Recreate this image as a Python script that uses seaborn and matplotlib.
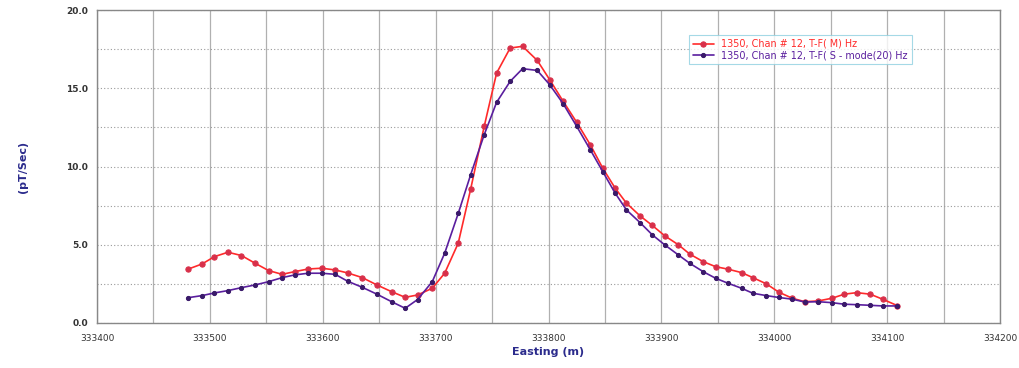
import numpy as np
import pandas as pd
import matplotlib
matplotlib.use('Agg')
import matplotlib.pyplot as plt
import seaborn as sns

# Data
easting = [333481, 333493, 333504, 333516, 333528, 333540, 333552, 333564, 333575, 333587,
           333599, 333611, 333622, 333635, 333648, 333661, 333673, 333684, 333697, 333708,
           333720, 333731, 333743, 333754, 333766, 333777, 333790, 333801, 333813, 333825,
           333837, 333848, 333859, 333869, 333881, 333892, 333903, 333915, 333925, 333937,
           333948, 333959, 333971, 333981, 333993, 334004, 334016, 334027, 334039, 334051,
           334062, 334073, 334085, 334096, 334109]

chan_m = [3.45, 3.77, 4.24, 4.52, 4.31, 3.82, 3.35, 3.11, 3.28, 3.45,
          3.50, 3.39, 3.20, 2.90, 2.43, 2.00, 1.64, 1.79, 2.22, 3.18,
          5.10, 8.55, 12.56, 15.97, 17.57, 17.68, 16.78, 15.55, 14.16, 12.82,
          11.39, 9.90, 8.62, 7.66, 6.85, 6.23, 5.57, 5.00, 4.41, 3.92,
          3.60, 3.44, 3.22, 2.90, 2.50, 1.97, 1.58, 1.36, 1.41, 1.58,
          1.84, 1.94, 1.84, 1.52, 1.11]

chan_s = [1.62, 1.75, 1.92, 2.07, 2.26, 2.43, 2.64, 2.90, 3.07, 3.18,
          3.18, 3.11, 2.67, 2.28, 1.84, 1.36, 0.94, 1.50, 2.64, 4.46,
          7.00, 9.47, 12.03, 14.10, 15.44, 16.25, 16.14, 15.23, 14.01, 12.56,
          11.07, 9.68, 8.30, 7.23, 6.42, 5.63, 4.99, 4.35, 3.82, 3.28,
          2.86, 2.54, 2.22, 1.90, 1.75, 1.63, 1.52, 1.34, 1.36, 1.30,
          1.20, 1.17, 1.13, 1.09, 1.09]

label_m = '1350, Chan # 12, T-F( M) Hz'
label_s = '1350, Chan # 12, T-F( S - mode(20) Hz'

x_ticks = [333400, 333500, 333600, 333700, 333800, 333900, 334000, 334100, 334200]
y_ticks = [0.0, 5.0, 10.0, 15.0, 20.0]

red = '#ff2a2a'
purple = '#5a1e9e'
navy = '#2b2b8c'

sns.set_style('white')

fig = plt.figure(figsize=(10.19, 3.68), dpi=100)
ax = fig.add_axes([0.0952, 0.1223, 0.8862, 0.8505])

sns.lineplot(x=easting, y=chan_m, ax=ax, color=red, lw=1.2, sort=False,
             marker='o', markersize=3.8, markerfacecolor='#d8304a',
             markeredgecolor='#d8304a', label=label_m)
sns.lineplot(x=easting, y=chan_s, ax=ax, color=purple, lw=1.2, sort=False,
             marker='o', markersize=3.0, markerfacecolor='#3a1a6a',
             markeredgecolor='#3a1a6a', label=label_s)

ax.set_xlim(333400, 334200)
ax.set_ylim(0, 20)
ax.set_xticks(x_ticks)
ax.set_xticklabels([str(t) for t in x_ticks], fontsize=6.5, color='#333333')
ax.set_xticks(np.arange(333450, 334200, 100), minor=True)
ax.set_yticks(y_ticks)
ax.set_yticklabels(['%.1f' % t for t in y_ticks], fontsize=6.5, color='#333333',
                   fontweight='bold')
ax.set_yticks([2.5, 7.5, 12.5, 17.5], minor=True)

# grid: solid verticals every 50 m, dotted horizontals every 2.5
ax.grid(True, which='both', axis='x', color='#b0b0b0', lw=0.9, ls='-')
ax.grid(True, which='both', axis='y', color='#9a9a9a', lw=0.8, ls=(0, (1, 2)))
ax.set_axisbelow(True)
ax.tick_params(axis='both', which='both', length=3, color='#888888', direction='out')
ax.tick_params(axis='x', pad=5)

for s in ax.spines.values():
    s.set_color('#888888')
    s.set_linewidth(1.0)

ax.set_xlabel('Easting (m)', fontsize=8, fontweight='bold', color=navy, labelpad=3)
ax.set_ylabel('(pT/Sec)', fontsize=8, fontweight='bold', color=navy, labelpad=27)

leg = ax.legend(loc='upper left', bbox_to_anchor=(0.65, 0.935), fontsize=6.9,
                frameon=True, fancybox=False, handlelength=2.2, borderpad=0.4,
                labelspacing=0.15)
leg.get_frame().set_edgecolor('#8fd0e0')
leg.get_frame().set_linewidth(0.8)
for txt, c in zip(leg.get_texts(), [red, purple]):
    txt.set_color(c)

fig.savefig('out.png', dpi=100)
